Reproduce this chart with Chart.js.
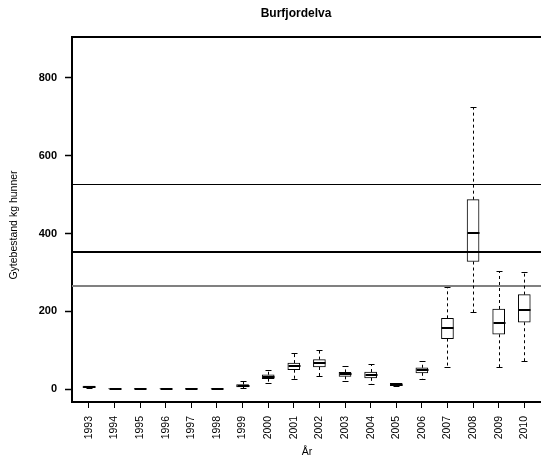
<!DOCTYPE html>
<html>
<head>
<meta charset="utf-8">
<script src="https://cdn.jsdelivr.net/npm/chart.js@4/dist/chart.umd.min.js"></script>
<style>
  html, body { margin: 0; padding: 0; background: #fff; overflow: hidden; }
  #wrap { width: 545px; height: 461px; }
</style>
</head>
<body>
<div id="wrap"><canvas id="boxChart" width="545" height="461"></canvas></div>
<script>
// values
let years = [1993, 1994, 1995, 1996, 1997, 1998, 1999, 2000, 2001, 2002, 2003, 2004, 2005, 2006, 2007, 2008, 2009, 2010];
let whiskLow = [3, 0, 0, 0, 0, 0, 2, 15, 27, 33, 20, 13, 7, 27, 56, 198, 56, 72];
let q1 =       [4, 0.5, 0.5, 0.5, 0.5, 0.5, 6, 27, 50, 57, 33, 29, 9, 42, 130, 328, 141, 172];
let median =   [6, 1, 1, 1, 1, 1, 9, 32, 59, 67, 39, 37, 11, 48, 156, 402, 170, 203];
let q3 =       [8, 1.5, 1.5, 1.5, 1.5, 1.5, 12, 37, 67, 76, 43, 44, 15, 55, 182, 487, 206, 243];
let whiskHigh = [9, 2, 2, 2, 2, 2, 20, 49, 92, 100, 59, 65, 17, 73, 262, 724, 303, 301];
let refLines = [527, 352, 265];
let yTicks = [0, 200, 400, 600, 800];

let font = "'Liberation Sans', Arial, sans-serif";

// whiskers, caps, medians, reference lines, frame and titles
const boxExtras = {
    id: "boxExtras",
    afterDatasetsDraw(chart) {
        let ctx = chart.ctx;
        let xs = chart.scales.x;
        let ys = chart.scales.y;
        let area = chart.chartArea;
        ctx.save();
        ctx.beginPath();
        ctx.rect(area.left, area.top, area.right - area.left, area.bottom - area.top);
        ctx.clip();

        // reference lines
        let refStyle = [
            { color: "#000", width: 1, half: true },
            { color: "#000", width: 2, half: false },
            { color: "#808080", width: 2, half: false }
        ];
        refLines.forEach((v, i) => {
            let py = Math.round(ys.getPixelForValue(v)) + (refStyle[i].half ? 0.5 : 0);
            ctx.strokeStyle = refStyle[i].color;
            ctx.lineWidth = refStyle[i].width;
            ctx.setLineDash([]);
            ctx.beginPath();
            ctx.moveTo(area.left, py);
            ctx.lineTo(area.right, py);
            ctx.stroke();
        });

        years.forEach((yr, i) => {
            let px = Math.round(xs.getPixelForValue(yr)) + 0.5;
            let pLo = Math.round(ys.getPixelForValue(whiskLow[i])) + 0.5;
            let pQ1 = ys.getPixelForValue(q1[i]);
            let pQ3 = ys.getPixelForValue(q3[i]);
            let pHi = Math.round(ys.getPixelForValue(whiskHigh[i])) + 0.5;
            let pMed = Math.round(ys.getPixelForValue(median[i]));

            ctx.strokeStyle = "#000";
            ctx.lineWidth = 1;
            // dashed whiskers
            ctx.setLineDash([3, 3]);
            ctx.beginPath();
            ctx.moveTo(px, pQ3);
            ctx.lineTo(px, pHi);
            ctx.moveTo(px, pQ1);
            ctx.lineTo(px, pLo);
            ctx.stroke();
            // caps
            ctx.setLineDash([]);
            ctx.beginPath();
            ctx.moveTo(px - 3, pHi);
            ctx.lineTo(px + 3, pHi);
            ctx.moveTo(px - 3, pLo);
            ctx.lineTo(px + 3, pLo);
            ctx.stroke();
            // median
            ctx.lineWidth = 2;
            ctx.beginPath();
            ctx.moveTo(px - 6, pMed);
            ctx.lineTo(px + 6, pMed);
            ctx.stroke();
        });
        ctx.restore();

        // top of the frame (left and bottom come from the axes, right side is cut off)
        ctx.save();
        ctx.strokeStyle = "#000";
        ctx.lineWidth = 2;
        ctx.beginPath();
        ctx.moveTo(area.left - 1, area.top);
        ctx.lineTo(area.right + 3, area.top);
        ctx.stroke();

        // titles
        ctx.fillStyle = "#000";
        ctx.textAlign = "center";
        ctx.textBaseline = "middle";
        ctx.font = "bold 12px " + font;
        ctx.fillText("Burfjordelva", 296, 14);
        ctx.font = "10.5px " + font;
        ctx.fillText("År", 307, 452);
        ctx.translate(14, 225);
        ctx.rotate(-Math.PI / 2);
        ctx.fillText("Gytebestand kg hunner", 0, 0);
        ctx.restore();
    }
};

let ctx = document.getElementById("boxChart").getContext("2d");

let chart = new Chart(ctx, {
    type: "bar",
    data: {
        datasets: [{
            label: "IQR",
            data: years.map((yr, i) => ({ x: yr, y: [q1[i], q3[i]] })),
            backgroundColor: "#fff",
            borderColor: "#000",
            borderWidth: 1,
            borderSkipped: false,
            barThickness: 12
        }]
    },
    options: {
        responsive: false,
        animation: false,
        devicePixelRatio: 1,
        layout: { padding: { top: 37, right: 3, left: 0, bottom: 0 } },
        plugins: {
            legend: { display: false },
            tooltip: { enabled: false },
            title: { display: false }
        },
        scales: {
            x: {
                type: "linear",
                offset: false,
                min: 1992.34,
                max: 2010.66,
                afterBuildTicks: (scale) => { scale.ticks = years.map(v => ({ value: v })); },
                afterFit: (scale) => { scale.height = 59; },
                grid: { offset: false, drawOnChartArea: false, tickLength: 6, tickColor: "#000", tickWidth: 1 },
                border: { display: true, color: "#000", width: 2 },
                ticks: {
                    color: "#000",
                    minRotation: 90,
                    maxRotation: 90,
                    padding: 8,
                    autoSkip: false,
                    font: { family: font, size: 10.5 },
                    callback: (v) => String(v)
                }
            },
            y: {
                min: -33,
                max: 905,
                afterBuildTicks: (scale) => { scale.ticks = yTicks.map(v => ({ value: v })); },
                afterFit: (scale) => { scale.width = 72; },
                grid: { drawOnChartArea: false, tickLength: 7, tickColor: "#000", tickWidth: 1.5 },
                border: { display: true, color: "#000", width: 2 },
                ticks: {
                    color: "#000",
                    padding: 8,
                    font: { family: font, size: 11, weight: "bold" },
                    callback: (v) => String(v)
                }
            }
        }
    },
    plugins: [boxExtras]
});
</script>
</body>
</html>
